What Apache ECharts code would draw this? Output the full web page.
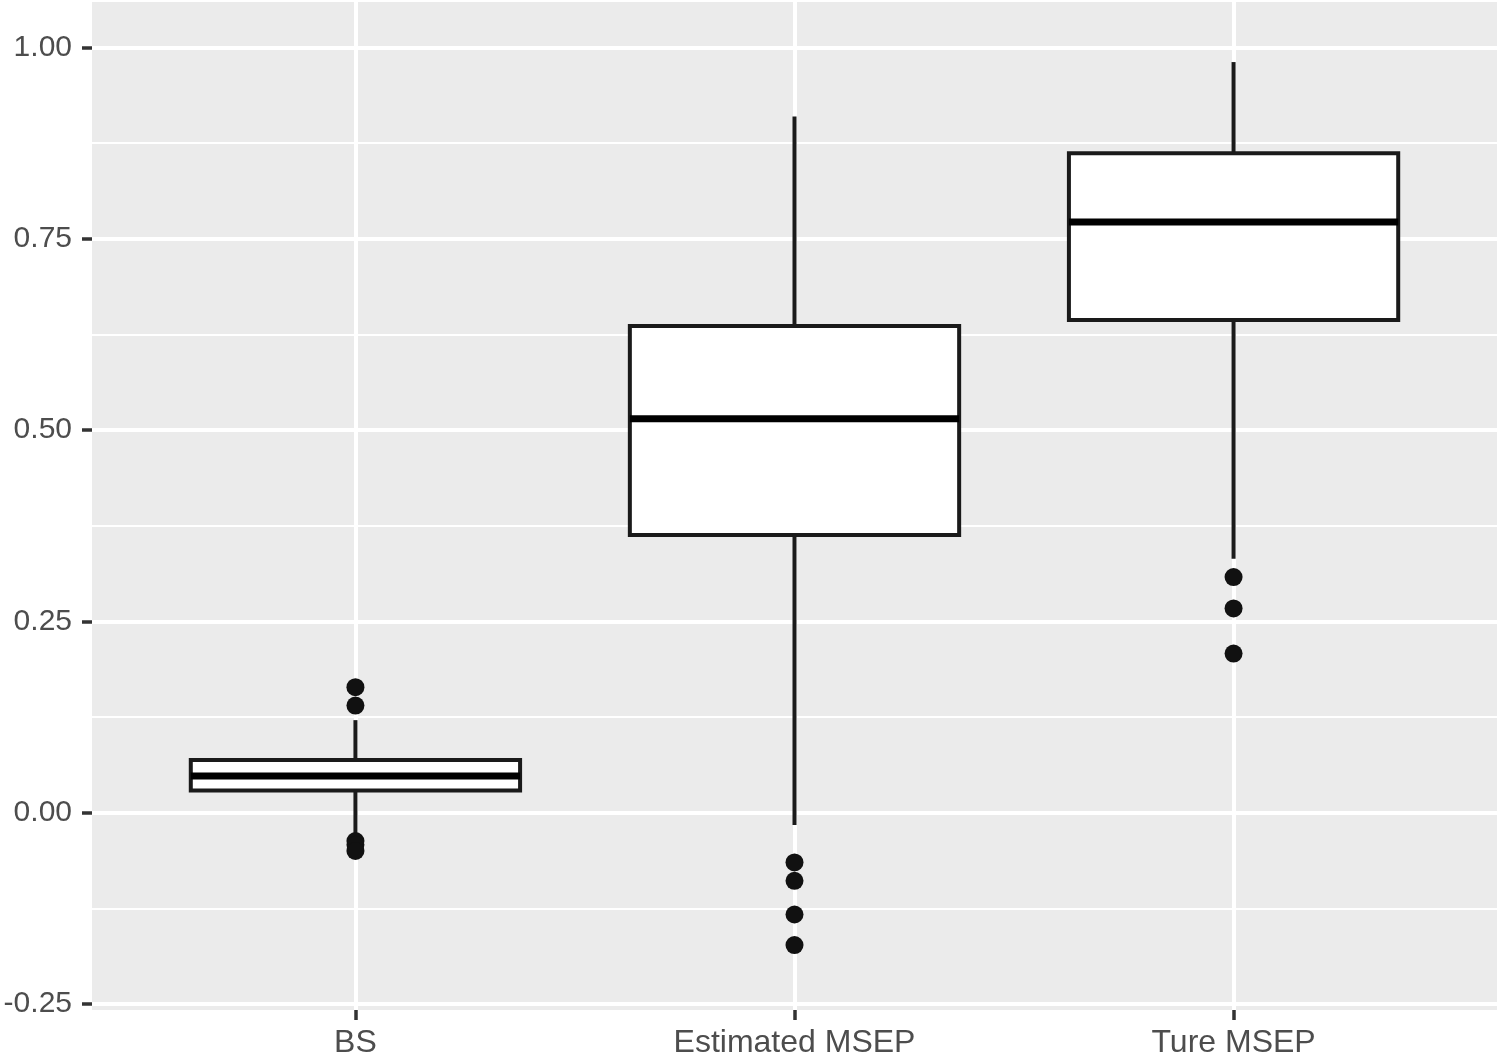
<!DOCTYPE html>
<html>
<head>
<meta charset="utf-8">
<script src="https://cdn.jsdelivr.net/npm/echarts@6/dist/echarts.min.js"></script>
<style>
  html, body { margin: 0; padding: 0; background: #ffffff; }
  #chart { width: 1500px; height: 1056px; }
</style>
</head>
<body>
<div id="chart"></div>
<script>
// ---- data ----
const categories = ['BS', 'Estimated MSEP', 'Ture MSEP'];
const categoryPos = [1, 2, 3];
const whiskerLow  = [-0.027, -0.016, 0.332];
const q1Values    = [0.029, 0.363, 0.644];
const medians     = [0.048, 0.515, 0.772];
const q3Values    = [0.069, 0.636, 0.862];
const whiskerHigh = [0.121, 0.910, 0.981];
const outliersBS  = [0.164, 0.140, -0.037, -0.042, -0.050];
const outliersEst = [-0.065, -0.089, -0.133, -0.173];
const outliersTrue = [0.308, 0.267, 0.208];
const yTicks = [-0.25, 0, 0.25, 0.5, 0.75, 1.0];

// ---- build series data ----
const boxData = categoryPos.map((x, i) => [x, whiskerLow[i], q1Values[i], medians[i], q3Values[i], whiskerHigh[i]]);
const outlierData = []
  .concat(outliersBS.map(v => [categoryPos[0], v]))
  .concat(outliersEst.map(v => [categoryPos[1], v]))
  .concat(outliersTrue.map(v => [categoryPos[2], v]));

const BOX_WIDTH = 0.75; // in category units
const INK = '#1a1a1a';
const TEXT = '#4d4d4d';
const FONT = '"Liberation Sans", Arial, Helvetica, sans-serif';

const chart = echarts.init(document.getElementById('chart'), null, { renderer: 'canvas' });

const option = {
  backgroundColor: '#ffffff',
  animation: false,
  grid: {
    left: 92, right: 3, top: 2, bottom: 46,
    show: true, backgroundColor: '#ebebeb', borderWidth: 0,
    containLabel: false,
    outerBoundsMode: 'none'
  },
  xAxis: {
    type: 'value',
    min: 0.4, max: 3.6,
    minInterval: 1, maxInterval: 1,
    axisLine: { show: false, onZero: false },
    axisTick: { show: true, length: 10, customValues: categoryPos, lineStyle: { color: '#333333', width: 3.5 } },
    axisLabel: {
      show: true, customValues: categoryPos, margin: 17,
      color: TEXT, fontSize: 32, fontFamily: FONT,
      formatter: v => categories[Math.round(v) - 1] || ''
    },
    splitLine: { show: true, lineStyle: { color: '#ffffff', width: 4 } },
    minorSplitLine: { show: false }
  },
  yAxis: {
    type: 'value',
    min: -0.2578, max: 1.0595,
    minInterval: 0.25, maxInterval: 0.25,
    axisLine: { show: false, onZero: false },
    axisTick: { show: true, length: 10, customValues: yTicks, lineStyle: { color: '#333333', width: 3.5 } },
    axisLabel: {
      show: true, customValues: yTicks, margin: 20,
      color: TEXT, fontSize: 30, fontFamily: FONT,
      formatter: v => v.toFixed(2)
    },
    splitLine: { show: true, lineStyle: { color: '#ffffff', width: 4 } },
    minorTick: { show: false, splitNumber: 2 },
    minorSplitLine: { show: true, lineStyle: { color: '#ffffff', width: 2 } }
  },
  series: [
    {
      type: 'custom',
      data: boxData,
      encode: { x: 0, y: [1, 2, 3, 4, 5] },
      clip: false,
      renderItem: function (params, api) {
        const x = api.value(0);
        const lo = api.value(1), q1 = api.value(2), med = api.value(3), q3 = api.value(4), hi = api.value(5);
        const half = api.size([BOX_WIDTH, 0])[0] / 2;
        const pLo = api.coord([x, lo]);
        const pQ1 = api.coord([x, q1]);
        const pMed = api.coord([x, med]);
        const pQ3 = api.coord([x, q3]);
        const pHi = api.coord([x, hi]);
        const cx = pMed[0];
        return {
          type: 'group',
          children: [
            { type: 'line', shape: { x1: cx, y1: pQ3[1], x2: cx, y2: pHi[1] }, style: { stroke: INK, lineWidth: 4 } },
            { type: 'line', shape: { x1: cx, y1: pQ1[1], x2: cx, y2: pLo[1] }, style: { stroke: INK, lineWidth: 4 } },
            { type: 'rect', shape: { x: cx - half, y: pQ3[1], width: 2 * half, height: pQ1[1] - pQ3[1] },
              style: { fill: '#ffffff', stroke: INK, lineWidth: 4 } },
            { type: 'line', shape: { x1: cx - half, y1: pMed[1], x2: cx + half, y2: pMed[1] }, style: { stroke: '#000000', lineWidth: 7 } }
          ]
        };
      },
      z: 2
    },
    {
      type: 'scatter',
      data: outlierData,
      symbol: 'circle',
      symbolSize: 18,
      itemStyle: { color: '#111111', opacity: 1 },
      z: 3
    }
  ]
};

chart.setOption(option);
</script>
</body>
</html>
